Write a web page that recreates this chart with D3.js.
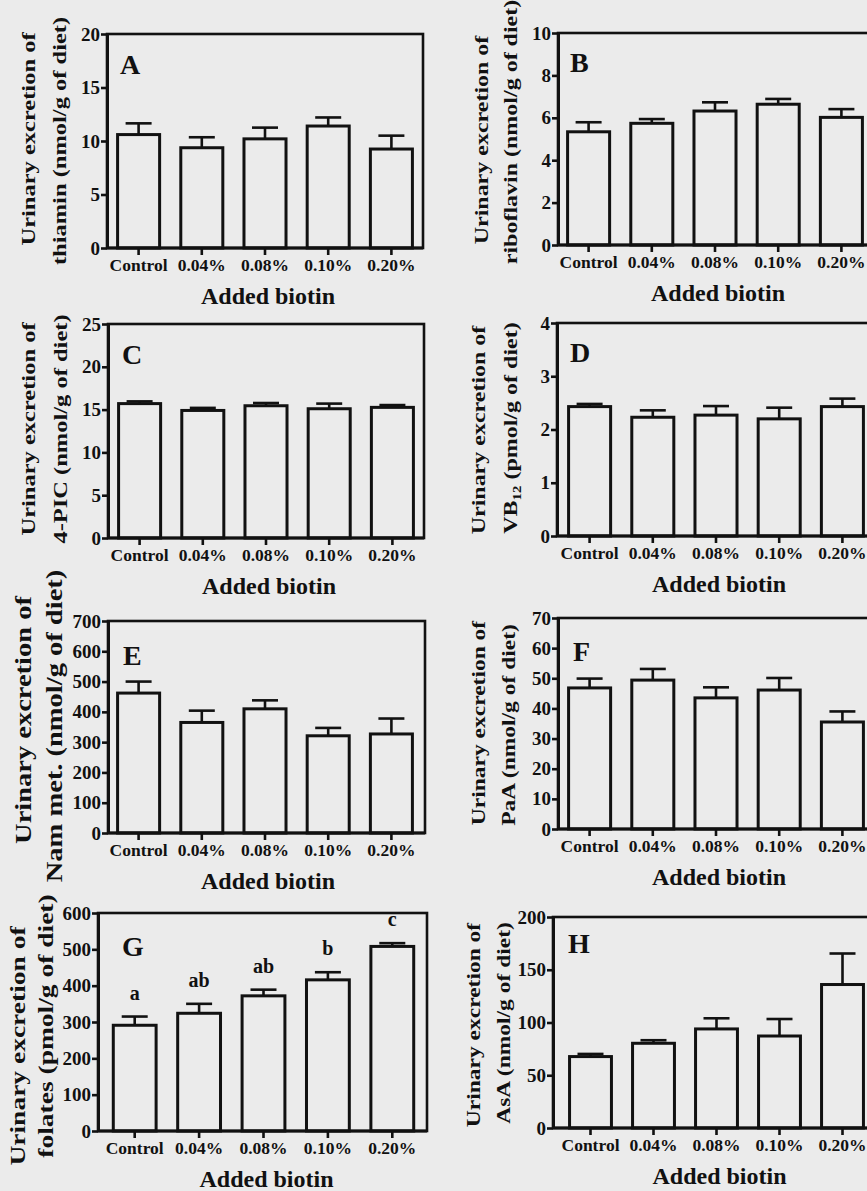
<!DOCTYPE html>
<html><head><meta charset="utf-8">
<script src="https://cdn.jsdelivr.net/npm/d3@7"></script>
<style>
body{margin:0;background:#ebebeb}
svg{display:block}
svg text{font-family:"Liberation Serif","Times New Roman",Times,"Nimbus Roman","DejaVu Serif",serif !important;font-weight:bold;fill:#111}
</style>
</head><body>
<svg id="c" width="867" height="1191"></svg>
<script>
// ---- data ----
const categories = ["Control", "0.04%", "0.08%", "0.10%", "0.20%"];
const xTitle = "Added biotin";

const thiaminMean = [10.6, 9.37, 10.2, 11.4, 9.25];
const thiaminErr  = [1.05, 0.98, 1.05, 0.8, 1.25];
const thiaminTicks = [0, 5, 10, 15, 20];

const riboflavinMean = [5.34, 5.74, 6.32, 6.64, 6.02];
const riboflavinErr  = [0.45, 0.2, 0.41, 0.25, 0.39];
const riboflavinTicks = [0, 2, 4, 6, 8, 10];

const picMean = [15.7, 14.9, 15.45, 15.1, 15.26];
const picErr  = [0.26, 0.3, 0.32, 0.6, 0.27];
const picTicks = [0, 5, 10, 15, 20, 25];

const vb12Mean = [2.43, 2.23, 2.27, 2.2, 2.43];
const vb12Err  = [0.05, 0.13, 0.17, 0.21, 0.15];
const vb12Ticks = [0, 1, 2, 3, 4];

const nammetMean = [462, 365, 410, 321, 327];
const nammetErr  = [38, 39, 28, 26, 51];
const nammetTicks = [0, 100, 200, 300, 400, 500, 600, 700];

const paaMean = [46.8, 49.4, 43.5, 46.1, 35.5];
const paaErr  = [3.1, 3.7, 3.5, 4.0, 3.5];
const paaTicks = [0, 10, 20, 30, 40, 50, 60, 70];

const folatesMean = [291, 324, 372, 416, 508];
const folatesErr  = [24, 26, 17, 21, 9];
const folatesTicks = [0, 100, 200, 300, 400, 500, 600];
const folatesLetters = ["a", "ab", "ab", "b", "c"];

const asaMean = [67.7, 80.3, 93.9, 87.2, 136];
const asaErr  = [2.5, 2.9, 10.1, 16.1, 29.4];
const asaTicks = [0, 50, 100, 150, 200];

const panelLetters = ["A", "B", "C", "D", "E", "F", "G", "H"];
const yLine1 = "Urinary excretion of";
const yLine2 = [
  ["thiamin (nmol/g of diet)"],
  ["riboflavin (nmol/g of diet)"],
  ["4-PIC (nmol/g of diet)"],
  ["VB", "12", " (pmol/g of diet)"],
  ["Nam met. (nmol/g of diet)"],
  ["PaA (nmol/g of diet)"],
  ["folates (pmol/g of diet)"],
  ["AsA (nmol/g of diet)"]
];

// ---- layout (positions only) ----
const layout = [
  {fl:107, fr:423, ft:34,  fb:248,  bl:107,   br:423,   t1x:35,  t2x:66,   t1y:139,  t2y:141,  tfs:24.5, dx:13, dy:40},
  {fl:558, fr:874, ft:33,  fb:245,  bl:557,   br:873,   t1x:488, t2x:517,  t1y:140,  t2y:132,  tfs:24,   dx:12, dy:39},
  {fl:108, fr:424, ft:324, fb:538,  bl:108,   br:424,   t1x:35,  t2x:66.5, t1y:429,  t2y:429,  tfs:24.5, dx:14, dy:40},
  {fl:557, fr:873, ft:323, fb:536,  bl:558,   br:874,   t1x:485, t2x:517,  t1y:430,  t2y:428,  tfs:24,   dx:13, dy:39},
  {fl:108, fr:425, ft:621, fb:833,  bl:107,   br:423,   t1x:31,  t2x:62,   t1y:720,  t2y:726,  tfs:28.5, dx:15, dy:44},
  {fl:558, fr:874, ft:618, fb:829,  bl:558,   br:874,   t1x:485, t2x:515,  t1y:723,  t2y:725,  tfs:23.5, dx:15, dy:43},
  {fl:98,  fr:427, ft:913, fb:1131, bl:102.5, br:424.5, t1x:25,  t2x:53,   t1y:1046, t2y:1026, tfs:27.5, dx:24, dy:43},
  {fl:553, fr:874, ft:917, fb:1128, bl:559,   br:874,   t1x:480, t2x:510,  t1y:1025, t2y:1023, tfs:23.5, dx:15, dy:36}
];

const series = [
  [thiaminMean, thiaminErr, thiaminTicks, null],
  [riboflavinMean, riboflavinErr, riboflavinTicks, null],
  [picMean, picErr, picTicks, null],
  [vb12Mean, vb12Err, vb12Ticks, null],
  [nammetMean, nammetErr, nammetTicks, null],
  [paaMean, paaErr, paaTicks, null],
  [folatesMean, folatesErr, folatesTicks, folatesLetters],
  [asaMean, asaErr, asaTicks, null]
];

const BG = "#ebebeb", INK = "#111";
const FONT = '"Liberation Serif","Times New Roman",Times,"Nimbus Roman","DejaVu Serif",serif';
const svg = d3.select("#c");
svg.append("rect").attr("width", 867).attr("height", 1191).attr("fill", BG);

series.forEach(([means, errs, ticks, letters], i) => {
  const L = layout[i];
  const g = svg.append("g").attr("font-family", FONT).attr("font-weight", "bold");
  const x = d3.scaleBand().domain(categories).range([L.bl, L.br])
    .paddingInner(0.335).paddingOuter(0.1675);
  const y = d3.scaleLinear().domain([0, d3.max(ticks)]).range([L.fb, L.ft]);
  const rows = categories.map((c, k) => ({c, v: means[k], e: errs[k], lab: letters ? letters[k] : null}));

  // error bars (above only)
  const eb = g.append("g").attr("stroke", INK).attr("stroke-width", 2.6).attr("fill", "none");
  eb.selectAll("line.v").data(rows).join("line")
    .attr("x1", d => x(d.c) + x.bandwidth() / 2).attr("x2", d => x(d.c) + x.bandwidth() / 2)
    .attr("y1", d => y(d.v)).attr("y2", d => y(d.v + d.e));
  eb.selectAll("line.h").data(rows).join("line")
    .attr("x1", d => x(d.c) + x.bandwidth() / 2 - 13).attr("x2", d => x(d.c) + x.bandwidth() / 2 + 13)
    .attr("y1", d => y(d.v + d.e)).attr("y2", d => y(d.v + d.e));

  // bars
  g.append("g").selectAll("rect").data(rows).join("rect")
    .attr("x", d => x(d.c)).attr("width", x.bandwidth())
    .attr("y", d => y(d.v)).attr("height", d => y(0) - y(d.v))
    .attr("fill", BG).attr("stroke", INK).attr("stroke-width", 3);

  // frame
  g.append("rect").attr("x", L.fl).attr("y", L.ft)
    .attr("width", L.fr - L.fl).attr("height", L.fb - L.ft)
    .attr("fill", "none").attr("stroke", INK).attr("stroke-width", 2.6);

  // y axis
  const ya = g.append("g").attr("transform", `translate(${L.fl},0)`)
    .call(d3.axisLeft(y).tickValues(ticks).tickFormat(d => String(d))
      .tickSize(6).tickPadding(1).tickSizeOuter(0));
  ya.attr("font-family", FONT).attr("font-weight", "bold");
  ya.select(".domain").attr("stroke", INK).attr("stroke-width", 3);
  ya.selectAll(".tick line").attr("stroke", INK).attr("stroke-width", 2.6);
  ya.selectAll(".tick text").attr("font-size", 19).attr("fill", INK);

  // x axis
  const xa = g.append("g").attr("transform", `translate(0,${L.fb})`)
    .call(d3.axisBottom(x).tickSize(7).tickPadding(4).tickSizeOuter(0));
  xa.attr("font-family", FONT).attr("font-weight", "bold");
  xa.select(".domain").remove();
  g.append("line").attr("x1", L.fl).attr("x2", L.fr).attr("y1", L.fb).attr("y2", L.fb)
    .attr("stroke", INK).attr("stroke-width", 3);
  xa.selectAll(".tick line").attr("stroke", INK).attr("stroke-width", 2.6);
  xa.selectAll(".tick text").attr("font-size", 17.5).attr("fill", INK);

  // x title
  g.append("text").attr("x", (L.bl + L.br) / 2 + 3).attr("y", L.fb + 56)
    .attr("text-anchor", "middle").attr("font-size", 24).text(xTitle);

  // panel letter
  g.append("text").attr("x", L.fl + L.dx).attr("y", L.ft + L.dy)
    .attr("font-size", 28).text(panelLetters[i]);

  // y title (two lines)
  g.append("text").attr("transform", `translate(${L.t1x},${L.t1y}) rotate(-90) scale(1,0.8)`)
    .attr("text-anchor", "middle").attr("font-size", L.tfs).text(yLine1);
  const t2 = g.append("text").attr("transform", `translate(${L.t2x},${L.t2y}) rotate(-90) scale(1,0.8)`)
    .attr("text-anchor", "middle").attr("font-size", L.tfs);
  const parts = yLine2[i];
  if (parts.length === 1) {
    t2.text(parts[0]);
  } else {
    t2.append("tspan").text(parts[0]);
    t2.append("tspan").attr("font-size", L.tfs * 0.62).attr("dy", L.tfs * 0.22).text(parts[1]);
    t2.append("tspan").attr("dy", -L.tfs * 0.22).text(parts[2]);
  }

  // significance letters
  if (letters) {
    g.append("g").selectAll("text").data(rows).join("text")
      .attr("x", d => x(d.c) + x.bandwidth() / 2).attr("y", d => y(d.v + d.e) - 17)
      .attr("text-anchor", "middle").attr("font-size", 20).text(d => d.lab);
  }
});
</script>
</body></html>
